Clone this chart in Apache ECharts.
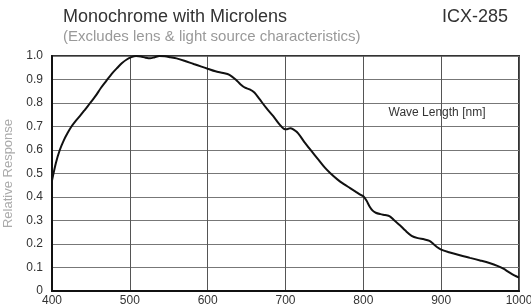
<!DOCTYPE html>
<html>
<head>
<meta charset="utf-8">
<script src="https://cdn.jsdelivr.net/npm/echarts@6/dist/echarts.min.js"></script>
<style>
  html, body { margin: 0; padding: 0; background: #fff; }
  #chart { width: 531px; height: 308px; }
</style>
</head>
<body>
<div id="chart"></div>
<script>
// wavelength (nm) / relative response
const waveLength = [400, 405, 410, 415, 420, 425, 430, 436, 442, 449, 456, 463, 470, 477, 484, 490, 496, 502, 508, 514,
  520, 526, 532, 538, 545, 552, 560, 570, 582, 592, 600, 610, 620, 628, 636, 642, 648, 654, 660, 667,
  675, 684, 692, 698, 702, 706, 710, 716, 724, 733, 742, 750, 758, 767, 775, 783, 790, 796, 800, 804,
  808, 812, 816, 822, 828, 834, 840, 847, 854, 862, 870, 878, 885, 890, 895, 900, 910, 924, 937, 950,
  962, 973, 980, 987, 994, 1000];
const response = [0.47, 0.545, 0.6, 0.64, 0.672, 0.70, 0.722, 0.745, 0.77, 0.80, 0.83, 0.865, 0.895, 0.925, 0.95, 0.97, 0.985, 0.995, 1.0, 0.998,
  0.993, 0.99, 0.995, 1.0, 0.999, 0.995, 0.99, 0.98, 0.966, 0.955, 0.946, 0.935, 0.928, 0.92, 0.9, 0.88, 0.865, 0.858, 0.845, 0.815,
  0.78, 0.745, 0.71, 0.69, 0.688, 0.693, 0.688, 0.672, 0.635, 0.597, 0.56, 0.527, 0.5, 0.474, 0.455, 0.438, 0.423, 0.41, 0.403, 0.385,
  0.36, 0.342, 0.333, 0.327, 0.323, 0.318, 0.3, 0.28, 0.257, 0.235, 0.225, 0.22, 0.213, 0.2, 0.186, 0.176, 0.165, 0.152, 0.141, 0.13,
  0.119, 0.106, 0.095, 0.08, 0.066, 0.057];
const xTicks = [400, 500, 600, 700, 800, 900, 1000];
const yTicks = [0, 0.1, 0.2, 0.3, 0.4, 0.5, 0.6, 0.7, 0.8, 0.9, 1.0];

const chart = echarts.init(document.getElementById("chart"));
const font = "Liberation Sans, Arial, sans-serif";

chart.setOption({
  animation: false,
  textStyle: { fontFamily: font },
  title: [
    {
      text: "Monochrome with Microlens",
      subtext: "(Excludes lens & light source characteristics)",
      left: 58,
      top: 3,
      itemGap: 3,
      textStyle: { color: "#333", fontSize: 18, fontWeight: "normal", fontFamily: font },
      subtextStyle: { color: "#999", fontSize: 15, fontFamily: font },
    },
    {
      text: "ICX-285",
      right: 18,
      top: 3,
      textStyle: { color: "#333", fontSize: 18, fontWeight: "normal", fontFamily: font },
    },
  ],
  grid: {
    left: 52,
    right: 12,
    top: 56,
    bottom: 17,
    outerBoundsMode: "none",
    show: true,
    borderColor: "#333",
    borderWidth: 2,
  },
  xAxis: {
    type: "value",
    min: xTicks[0],
    max: xTicks[xTicks.length - 1],
    interval: 100,
    axisLine: { lineStyle: { color: "#111", width: 2 } },
    axisTick: { show: false },
    axisLabel: { color: "#333", fontSize: 12, margin: 4, formatter: (v) => String(v) },
    splitLine: { lineStyle: { color: "#555", width: 1 } },
  },
  yAxis: {
    type: "value",
    min: yTicks[0],
    max: yTicks[yTicks.length - 1],
    interval: 0.1,
    name: "Relative Response",
    nameLocation: "middle",
    nameGap: 32,
    nameTextStyle: { color: "#aaa", fontSize: 13 },
    axisLine: { show: true, lineStyle: { color: "#111", width: 2 } },
    axisTick: { show: false },
    axisLabel: {
      color: "#333",
      fontSize: 12,
      margin: 9,
      formatter: (v) => (v === 0 ? "0" : v.toFixed(1)),
    },
    splitLine: { lineStyle: { color: "#777", width: 1 } },
  },
  graphic: [
    {
      type: "text",
      x: 437,
      y: 113,
      style: {
        text: "Wave Length [nm]",
        fill: "#333",
        font: "12px " + font,
        align: "center",
        verticalAlign: "middle",
        backgroundColor: "#fff",
        padding: [5, 4],
      },
    },
  ],
  series: [
    {
      type: "line",
      data: waveLength.map((w, i) => [w, response[i]]),
      smooth: 0.3,
      symbol: "none",
      lineStyle: { color: "#111", width: 2 },
    },
  ],
});
</script>
</body>
</html>
